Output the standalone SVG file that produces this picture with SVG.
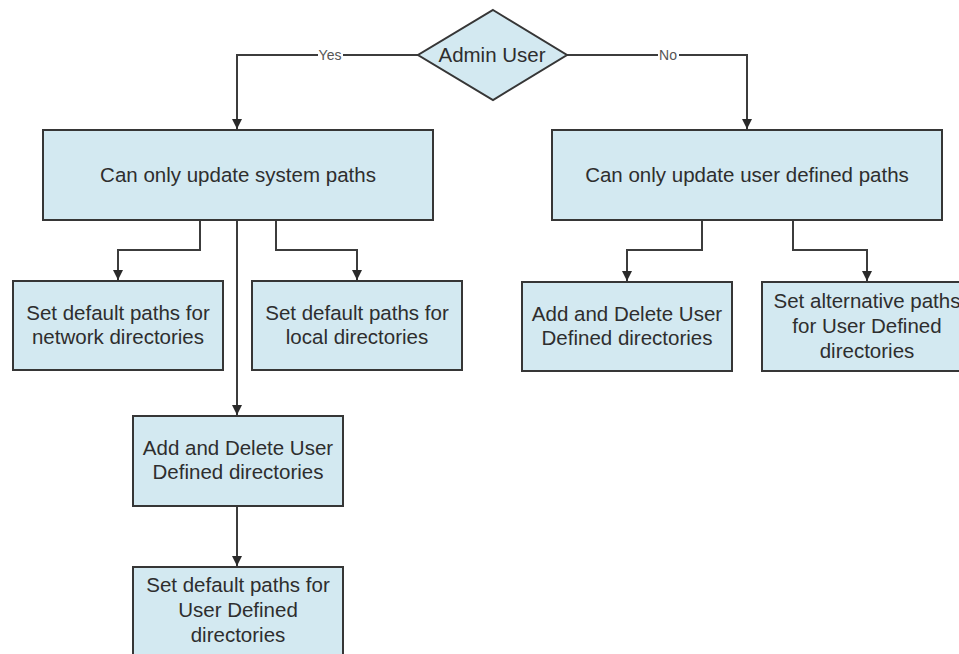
<svg xmlns="http://www.w3.org/2000/svg" width="959" height="654" viewBox="0 0 959 654">
<style>
.box{fill:#d3e9f1;stroke:#363636;stroke-width:2}
.t{font-family:"Liberation Sans",Arial,sans-serif;font-size:20.5px;fill:#2e2e2e;text-anchor:middle}
.lbl{font-family:"Liberation Sans",Arial,sans-serif;font-size:14px;fill:#555;text-anchor:middle}
.c{fill:none;stroke:#3c3c3c;stroke-width:2}
</style>
<defs>
<marker id="arr" viewBox="0 0 10 10" refX="10" refY="5" markerWidth="10" markerHeight="10" markerUnits="userSpaceOnUse" orient="auto">
<path d="M0,0 L10,5 L0,10 z" fill="#2a2a2a"/>
</marker>
</defs>
<rect width="959" height="654" fill="#fff"/>
<g id="connectors">
<path class="c" d="M418,55 H343"/>
<path class="c" d="M318,55 H237 V129" marker-end="url(#arr)"/>
<text class="lbl" x="330" y="60">Yes</text>
<path class="c" d="M567,55 H658"/>
<path class="c" d="M679,55 H747 V129" marker-end="url(#arr)"/>
<text class="lbl" x="668" y="60">No</text>
<path class="c" d="M200,220 V250 H118 V280" marker-end="url(#arr)"/>
<path class="c" d="M276,220 V250 H357 V280" marker-end="url(#arr)"/>
<path class="c" d="M237,220 V415" marker-end="url(#arr)"/>
<path class="c" d="M237,506 V566" marker-end="url(#arr)"/>
<path class="c" d="M702,220 V250 H627 V281" marker-end="url(#arr)"/>
<path class="c" d="M793,220 V250 H867 V281" marker-end="url(#arr)"/>
</g>
<g id="admin">
<polygon class="box" points="493,10 567,55 493,100 418,55"/>
<text class="t" x="492" y="62">Admin User</text>
</g>
<g id="system">
<rect class="box" x="43" y="130" width="390" height="90"/>
<text class="t" x="238" y="182">Can only update system paths</text>
</g>
<g id="userdef">
<rect class="box" x="552" y="130" width="390" height="90"/>
<text class="t" x="747" y="182">Can only update user defined paths</text>
</g>
<g id="network">
<rect class="box" x="13" y="281" width="210" height="89"/>
<text class="t" x="118" y="320">Set default paths for</text>
<text class="t" x="118" y="344">network directories</text>
</g>
<g id="local">
<rect class="box" x="252" y="281" width="210" height="89"/>
<text class="t" x="357" y="320">Set default paths for</text>
<text class="t" x="357" y="344">local directories</text>
</g>
<g id="addleft">
<rect class="box" x="133" y="416" width="210" height="90"/>
<text class="t" x="238" y="455">Add and Delete User</text>
<text class="t" x="238" y="479">Defined directories</text>
</g>
<g id="defaultuser">
<rect class="box" x="133" y="567" width="210" height="95"/>
<text class="t" x="238" y="592">Set default paths for</text>
<text class="t" x="238" y="617">User Defined</text>
<text class="t" x="238" y="642">directories</text>
</g>
<g id="addright">
<rect class="box" x="522" y="282" width="210" height="89"/>
<text class="t" x="627" y="321">Add and Delete User</text>
<text class="t" x="627" y="345">Defined directories</text>
</g>
<g id="alt">
<rect class="box" x="762" y="282" width="210" height="89"/>
<text class="t" x="867" y="308">Set alternative paths</text>
<text class="t" x="867" y="333">for User Defined</text>
<text class="t" x="867" y="358">directories</text>
</g>
</svg>
